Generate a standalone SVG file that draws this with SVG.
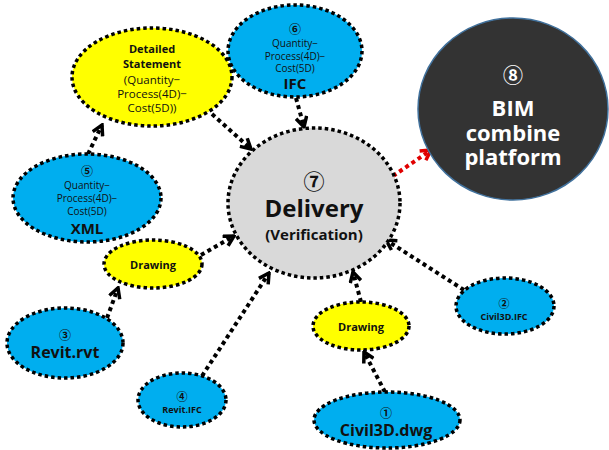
<svg xmlns="http://www.w3.org/2000/svg" width="609" height="450" viewBox="0 0 609 450">
<defs>
<style>
.b{fill:#00AEEF;stroke:#000;stroke-width:3.5;stroke-dasharray:3.5 3}
.y{fill:#FFFF00;stroke:#000;stroke-width:3.5;stroke-dasharray:3.5 3}
.g{fill:#D9D9D9;stroke:#000;stroke-width:3.5;stroke-dasharray:3.5 3}
.d{fill:#333333;stroke:#41719C;stroke-width:1.5}
text{font-family:"Open Sans","Noto Sans CJK KR",sans-serif;text-anchor:middle;fill:#111}
.n{font-family:"Noto Sans CJK KR",sans-serif;font-weight:bold}
.bo{font-weight:bold}
.w{fill:#fff}
.c{fill:none;stroke:#000;stroke-width:4;stroke-dasharray:4 3.5}
.r{stroke:#E00000}
</style>
<marker id="ab" viewBox="0 0 14 14" refX="12" refY="7" markerWidth="14" markerHeight="14" markerUnits="userSpaceOnUse" orient="auto">
<path d="M2,1.5 L12,7 L2,12.5" fill="none" stroke="#000" stroke-width="3.5"/>
</marker>
<marker id="ar" viewBox="0 0 14 14" refX="12" refY="7" markerWidth="14" markerHeight="14" markerUnits="userSpaceOnUse" orient="auto">
<path d="M2,1.5 L12,7 L2,12.5" fill="none" stroke="#E00000" stroke-width="3.5"/>
</marker>
</defs>
<g id="connectors">
<path class="c" d="M88,154 L102,125" marker-end="url(#ab)"/>
<path class="c" d="M212,114 L251,149" marker-end="url(#ab)"/>
<path class="c" d="M296,98 L304,127" marker-end="url(#ab)"/>
<path class="c" d="M201,255 L234,236" marker-end="url(#ab)"/>
<path class="c" d="M107,318 L118,288" marker-end="url(#ab)"/>
<path class="c" d="M202,376 L269,273" marker-end="url(#ab)"/>
<path class="c" d="M361,302 L353,272" marker-end="url(#ab)"/>
<path class="c" d="M385,392 L364,352" marker-end="url(#ab)"/>
<path class="c" d="M464,290 L386,240" marker-end="url(#ab)"/>
<path class="c r" d="M393,176 L431,150" marker-end="url(#ar)"/>
</g>
<g id="n8">
<ellipse class="d" cx="513" cy="109" rx="95" ry="91"/>
<text class="w bo" font-size="22"><tspan class="n" x="513" y="83" font-size="20">⑧</tspan><tspan x="513" y="116">BIM</tspan><tspan x="513" y="141">combine</tspan><tspan x="513" y="165">platform</tspan></text>
</g>
<g id="n7">
<ellipse class="g" cx="314" cy="203" rx="86" ry="75"/>
<text class="bo" font-size="24"><tspan class="n" x="314" y="189" font-size="21">⑦</tspan><tspan x="314" y="217">Delivery</tspan><tspan x="314" y="240" font-size="15">(Verification)</tspan></text>
</g>
<g id="detail">
<ellipse class="y" cx="152" cy="77" rx="80" ry="49"/>
<text font-size="11.5"><tspan class="bo" x="152" y="53" font-size="11">Detailed</tspan><tspan class="bo" x="152" y="68" font-size="11">Statement</tspan><tspan x="152" y="84">(Quantity−</tspan><tspan x="152" y="98">Process(4D)−</tspan><tspan x="152" y="112">Cost(5D))</tspan></text>
</g>
<g id="n6">
<ellipse class="b" cx="295" cy="51" rx="67" ry="46"/>
<text font-size="10"><tspan class="n" x="295" y="34" font-size="12">⑥</tspan><tspan x="295" y="47">Quantity−</tspan><tspan x="295" y="59.5">Process(4D)−</tspan><tspan x="295" y="72">Cost(5D)</tspan><tspan class="bo" x="295" y="89" font-size="15">IFC</tspan></text>
</g>
<g id="n5">
<ellipse class="b" cx="87" cy="198" rx="74" ry="44"/>
<text font-size="10"><tspan class="n" x="87" y="176" font-size="12">⑤</tspan><tspan x="87" y="189">Quantity−</tspan><tspan x="87" y="202">Process(4D)−</tspan><tspan x="87" y="215">Cost(5D)</tspan><tspan class="bo" x="87" y="234" font-size="15">XML</tspan></text>
</g>
<g id="drawingL">
<ellipse class="y" cx="153" cy="264" rx="49" ry="24"/>
<text class="bo" x="153" y="269" font-size="11">Drawing</text>
</g>
<g id="n3">
<ellipse class="b" cx="65" cy="343" rx="58" ry="35"/>
<text><tspan class="n" x="65" y="340" font-size="12">③</tspan><tspan class="bo" x="65" y="358" font-size="16">Revit.rvt</tspan></text>
</g>
<g id="n4">
<ellipse class="b" cx="182" cy="400" rx="44" ry="27"/>
<text><tspan class="n" x="182" y="401" font-size="11">④</tspan><tspan class="bo" x="182" y="413" font-size="9">Revit.IFC</tspan></text>
</g>
<g id="drawingR">
<ellipse class="y" cx="361" cy="326" rx="48" ry="24"/>
<text class="bo" x="361" y="331" font-size="11">Drawing</text>
</g>
<g id="n2">
<ellipse class="b" cx="505" cy="306" rx="49" ry="28"/>
<text><tspan class="n" x="504" y="308" font-size="11">②</tspan><tspan class="bo" x="504" y="320" font-size="9">Civil3D.IFC</tspan></text>
</g>
<g id="n1">
<ellipse class="b" cx="387" cy="420" rx="73" ry="28"/>
<text><tspan class="n" x="386" y="418" font-size="12">①</tspan><tspan class="bo" x="386" y="436" font-size="16">Civil3D.dwg</tspan></text>
</g>
</svg>
